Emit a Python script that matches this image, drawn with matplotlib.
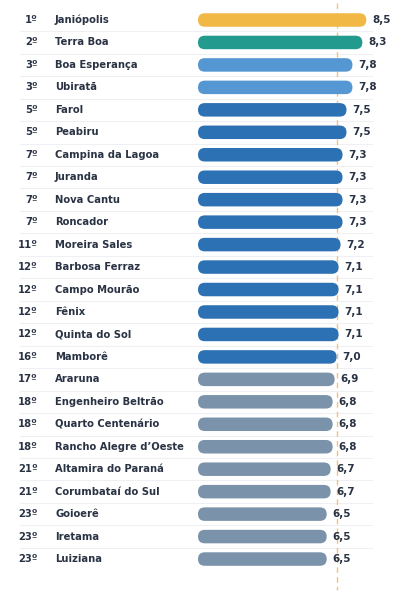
import numpy as np
import matplotlib
matplotlib.use("Agg")
import matplotlib.pyplot as plt
from matplotlib.patches import FancyBboxPatch
import matplotlib.transforms as mtransforms

# Data
ranks = ["1º", "2º", "3º", "3º", "5º", "5º", "7º", "7º", "7º", "7º", "11º", "12º", "12º",
         "12º", "12º", "16º", "17º", "18º", "18º", "18º", "21º", "21º", "23º", "23º", "23º"]
cities = ["Janiópolis", "Terra Boa", "Boa Esperança", "Ubiratã", "Farol", "Peabiru",
          "Campina da Lagoa", "Juranda", "Nova Cantu", "Roncador", "Moreira Sales",
          "Barbosa Ferraz", "Campo Mourão", "Fênix", "Quinta do Sol", "Mamborê", "Araruna",
          "Engenheiro Beltrão", "Quarto Centenário", "Rancho Alegre d’Oeste",
          "Altamira do Paraná", "Corumbataí do Sul", "Goioerê", "Iretama", "Luiziana"]
scores = [8.5, 8.3, 7.8, 7.8, 7.5, 7.5, 7.3, 7.3, 7.3, 7.3, 7.2, 7.1, 7.1, 7.1, 7.1, 7.0,
          6.9, 6.8, 6.8, 6.8, 6.7, 6.7, 6.5, 6.5, 6.5]
ref_value = 7.0


def bar_color(i, v):
    if i == 0:
        return "#f2b845"
    if i == 1:
        return "#229a8e"
    if v >= 7.8:
        return "#5597d3"
    if v >= 7.0:
        return "#2c71b4"
    return "#7a93ab"


W, H = 418, 601
fig = plt.figure(figsize=(W / 100, H / 100), dpi=100)
fig.patch.set_facecolor("white")

px_per_unit = 19.8
x0_px = 198
row_px = 22.46
top_px = 20

ax = fig.add_axes([x0_px / W, 0, 1 - x0_px / W, 1])
ax.set_xlim(0, (W - x0_px) / px_per_unit)
ax.set_ylim((H - top_px) / row_px, -top_px / row_px)
ax.axis("off")

n = len(scores)
bar_h_px = 13.5
bar_h = bar_h_px / row_px
r = bar_h_px / 2 / px_per_unit
aspect = px_per_unit / row_px

txt_color = "#2a3344"
trans = mtransforms.blended_transform_factory(fig.transFigure, ax.transData)

for i in range(n):
    # row separators
    if i < n - 1:
        ax.plot([20 / W, 372 / W], [i + 0.5, i + 0.5], transform=trans,
                color="#eef0f3", lw=0.8, zorder=0, clip_on=False)
    v = scores[i]
    box = FancyBboxPatch((r, i - bar_h / 2 + r * aspect), v - 2 * r, bar_h - 2 * r * aspect,
                         boxstyle=f"round,pad={r},rounding_size={r}",
                         mutation_aspect=aspect,
                         fc=bar_color(i, v), ec="none", zorder=2)
    ax.add_patch(box)
    ax.text(v + 6 / px_per_unit, i, f"{v:.1f}".replace(".", ","), va="center", ha="left",
            fontsize=7.5, fontweight="bold", color=txt_color, zorder=3)
    ax.text(38 / W, i, ranks[i], transform=trans, ha="right", va="center",
            fontsize=7.2, fontweight="bold", color=txt_color)
    ax.text(55 / W, i, cities[i], transform=trans, ha="left", va="center",
            fontsize=7.2, fontweight="bold", color=txt_color)

# reference line
ax.plot([ref_value, ref_value], [-top_px / row_px + 0.15, n - 0.2 + 0.6],
        color="#f0c27a", lw=1.0, ls=(0, (4, 3)), zorder=1)

fig.savefig("out.png", dpi=100, facecolor="white")
